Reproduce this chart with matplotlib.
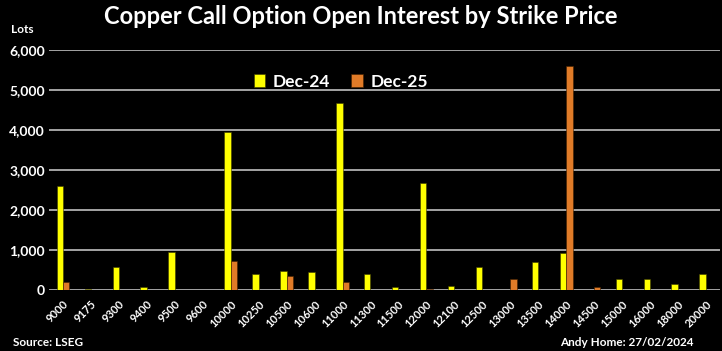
import numpy as np
import matplotlib.pyplot as plt
from matplotlib.ticker import FuncFormatter

plt.rcParams['font.family'] = ['Lato', 'DejaVu Sans']

strikes = ['9000', '9175', '9300', '9400', '9500', '9600', '10000', '10250',
           '10500', '10600', '11000', '11300', '11500', '12000', '12100',
           '12500', '13000', '13500', '14000', '14500', '15000', '16000',
           '18000', '20000']
dec24 = [2600, 30, 570, 80, 950, 0, 3950, 400, 480, 450, 4680, 400, 70,
         2680, 100, 580, 0, 700, 920, 0, 270, 270, 150, 400]
dec25 = [210, 0, 0, 0, 0, 0, 720, 0, 350, 0, 210, 0, 0, 20, 0, 0, 270, 0,
         5600, 70, 0, 0, 0, 0]

yellow = '#FFFF00'
orange = '#E07B28'

fig = plt.figure(figsize=(7.22, 3.51), dpi=100, facecolor='black')
ax = fig.add_axes([0.068, 0.174, 0.929, 0.684])
ax.set_facecolor('black')

x = np.arange(len(strikes))
w = 0.23
ax.bar(x - w / 2, dec24, w, color=yellow, edgecolor='#3a3a00', linewidth=0.4, label='Dec-24', zorder=3)
ax.bar(x + w / 2, dec25, w, color=orange, edgecolor='#402000', linewidth=0.4, label='Dec-25', zorder=3)

ax.set_xlim(-0.5, len(strikes) - 0.5)
ax.set_ylim(0, 6000)
ax.set_yticks(range(0, 6001, 1000))
ax.yaxis.set_major_formatter(FuncFormatter(lambda v, p: f'{int(v):,}'))
ax.grid(axis='y', color='#BFBFBF', linewidth=1.2, zorder=0)
for s in ax.spines.values():
    s.set_visible(False)
ax.tick_params(length=0, colors='white')
ax.set_xticks(x)
ax.set_xticklabels(strikes, rotation=45, ha='right', rotation_mode='anchor',
                   fontsize=8, fontweight='bold', color='white')
for lab in ax.get_yticklabels():
    lab.set_fontsize(10)
    lab.set_fontweight('bold')
    lab.set_color('white')
ax.tick_params(axis='x', pad=6)
ax.tick_params(axis='y', pad=3)

leg = ax.legend(loc='upper center', bbox_to_anchor=(0.435, 0.965), ncol=2,
                frameon=False, handlelength=0.65, handleheight=0.75,
                columnspacing=1.2, handletextpad=0.45,
                prop={'weight': 'bold', 'size': 12.5})
for t in leg.get_texts():
    t.set_color('white')

fig.text(0.5, 0.953, 'Copper Call Option Open Interest by Strike Price',
         ha='center', va='center', color='white', fontsize=17, fontweight='bold')
fig.text(0.015, 0.915, 'Lots', ha='left', va='center', color='white',
         fontsize=8.5, fontweight='bold')
fig.text(0.018, 0.025, 'Source: LSEG', ha='left', va='center', color='white',
         fontsize=8.5, fontweight='bold')
fig.text(0.96, 0.025, 'Andy Home: 27/02/2024', ha='right', va='center',
         color='white', fontsize=8.5, fontweight='bold')

fig.savefig('out.png', dpi=100, facecolor='black')
